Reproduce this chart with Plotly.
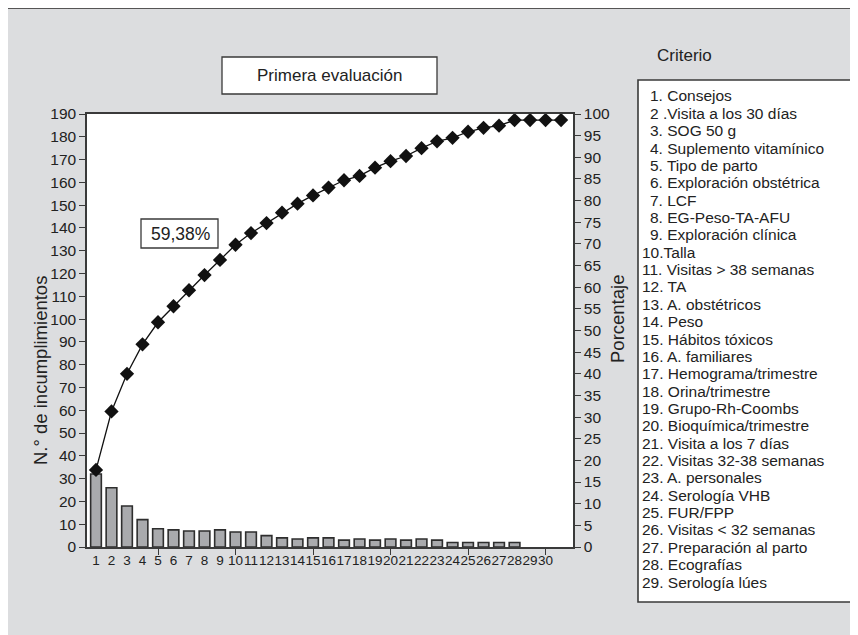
import plotly.graph_objects as go

# ---- data ----
categories = list(range(1, 31))
incumplimientos = [32, 26, 18, 12, 8, 7.5, 7, 7, 7.5, 6.6, 6.6, 5, 4, 3.5, 4,
                   4, 3, 3.5, 3, 3.5, 3, 3.5, 3, 2, 2, 2, 2, 2]
cum_x = list(range(1, 32))
porcentaje_acum = [17.8, 31.3, 40.0, 46.8, 51.9, 55.6, 59.3, 62.8, 66.3, 69.8,
                   72.5, 74.8, 77.2, 79.3, 81.2, 83.0, 84.7, 85.7, 87.6, 89.1,
                   90.3, 92.1, 93.7, 94.5, 95.9, 96.8, 97.3, 98.6, 98.6, 98.6, 98.6]
criterios = ["1. Consejos", "2 .Visita a los 30 días", "3. SOG 50 g",
             "4. Suplemento vitamínico", "5. Tipo de parto",
             "6. Exploración obstétrica", "7. LCF", "8. EG-Peso-TA-AFU",
             "9. Exploración clínica", "10.Talla", "11. Visitas &gt; 38 semanas",
             "12. TA", "13. A. obstétricos", "14. Peso", "15. Hábitos tóxicos",
             "16. A. familiares", "17. Hemograma/trimestre", "18. Orina/trimestre",
             "19. Grupo-Rh-Coombs", "20. Bioquímica/trimestre",
             "21. Visita a los 7 días", "22. Visitas 32-38 semanas",
             "23. A. personales", "24. Serología VHB", "25. FUR/FPP",
             "26. Visitas &lt; 32 semanas", "27. Preparación al parto",
             "28. Ecografías", "29. Serología lúes"]
left_ticks = list(range(0, 191, 10))
right_ticks = list(range(0, 101, 5))

# ---- layout geometry (screen pixels; page body has an 8px margin) ----
OFF = 8
W, H = 858, 635
PL, PR, PT, PB = 87, 573, 114, 547
FONT = "Arial, Liberation Sans, Helvetica, sans-serif"
GRAY_BG = "#dcdddf"
DARK = "#3a3a3a"
TXT = "#222222"


def px(x):
    return (x - PL) / (PR - PL)


def py(y):
    return (PB - y) / (PB - PT)


fig = go.Figure()
fig.add_trace(go.Bar(
    x=categories[:len(incumplimientos)], y=incumplimientos, width=0.69,
    marker=dict(color="#a9aaad", line=dict(color="#2e2e2e", width=1.6)),
    showlegend=False, hoverinfo="skip"))
fig.add_trace(go.Scatter(
    x=cum_x, y=porcentaje_acum, yaxis="y2", mode="lines+markers",
    line=dict(color="#111111", width=1.3),
    marker=dict(symbol="diamond", size=11, color="#111111"),
    showlegend=False, hoverinfo="skip"))

shapes = [
    # outer gray panel border
    dict(type="rect", xref="paper", yref="paper", x0=px(7.5), x1=px(900),
         y0=py(8.5), y1=py(700), fillcolor=GRAY_BG,
         line=dict(color="#555555", width=1), layer="below"),
    # white plot area
    dict(type="rect", xref="paper", yref="paper", x0=0, x1=1, y0=0, y1=1,
         fillcolor="white", line=dict(width=0), layer="below"),
    # title box
    dict(type="rect", xref="paper", yref="paper", x0=px(222), x1=px(437),
         y0=py(57), y1=py(94), fillcolor="white",
         line=dict(color=DARK, width=1.3)),
    # 59,38% box
    dict(type="rect", xref="paper", yref="paper", x0=px(141), x1=px(218),
         y0=py(219), y1=py(248), fillcolor="white",
         line=dict(color=DARK, width=1.3)),
    # legend box
    dict(type="rect", xref="paper", yref="paper", x0=px(638), x1=px(857),
         y0=py(80), y1=py(602), fillcolor="white",
         line=dict(color=DARK, width=1.6)),
]

annotations = [
    dict(text="Primera evaluación", x=px(330), y=py(75.5), xref="paper",
         yref="paper", showarrow=False, xanchor="center", yanchor="middle",
         font=dict(family=FONT, size=17, color=TXT)),
    dict(text="59,38%", x=px(180), y=py(233.5), xref="paper", yref="paper",
         showarrow=False, xanchor="center", yanchor="middle",
         font=dict(family=FONT, size=17.5, color=TXT)),
    dict(text="Criterio", x=px(655), y=py(55), xref="paper", yref="paper",
         showarrow=False, xanchor="left", yanchor="middle",
         font=dict(family=FONT, size=17, color=TXT)),
    dict(text="N.° de incumplimientos", x=px(40), y=py(371), xref="paper",
         yref="paper", showarrow=False, textangle=-90, xanchor="center",
         yanchor="middle", font=dict(family=FONT, size=18.5, color=TXT)),
    dict(text="Porcentaje", x=px(617), y=py(319), xref="paper",
         yref="paper", showarrow=False, textangle=-90, xanchor="center",
         yanchor="middle", font=dict(family=FONT, size=18.5, color=TXT)),
]

step = (582 - 96) / 28
for i, t in enumerate(criterios):
    xl = 648 if i < 9 else 640
    annotations.append(dict(
        text=t, x=px(xl), y=py(96 + i * step), xref="paper", yref="paper",
        showarrow=False, xanchor="left", yanchor="middle",
        font=dict(family=FONT, size=15.5, color=TXT)))

fig.update_layout(
    width=W, height=H,
    margin=dict(l=PL - OFF, r=W - (PR - OFF), t=PT - OFF, b=H - (PB - OFF),
                pad=0),
    paper_bgcolor="white", plot_bgcolor="white",
    xaxis=dict(range=[0.42, 31.77], tickmode="array", tickvals=categories,
               ticktext=[str(c) for c in categories], ticks="",
               tickangle=0, showgrid=False, zeroline=False,
               showline=True, linecolor=DARK, linewidth=1.5, mirror=True,
               tickfont=dict(family=FONT, size=13.5, color=TXT),
               minor=dict(tickmode="array", tickvals=[5, 10, 15, 20, 25, 30],
                          ticks="outside", ticklen=6, tickcolor=DARK,
                          tickwidth=1.3)),
    yaxis=dict(range=[0, 190], tickmode="array", tickvals=left_ticks,
               ticks="outside", ticklen=6, tickcolor=DARK, tickwidth=1.3,
               showgrid=False, zeroline=False, showline=True, linecolor=DARK,
               linewidth=1.5,
               tickfont=dict(family=FONT, size=15.5, color=TXT)),
    yaxis2=dict(range=[0, 100], tickmode="array", tickvals=right_ticks,
                overlaying="y", side="right", ticks="outside", ticklen=6,
                tickcolor=DARK, tickwidth=1.3, showgrid=False, zeroline=False,
                showline=True, linecolor=DARK, linewidth=1.5,
                tickfont=dict(family=FONT, size=15.5, color=TXT)),
    shapes=shapes, annotations=annotations,
)

fig.write_html("out.html")
